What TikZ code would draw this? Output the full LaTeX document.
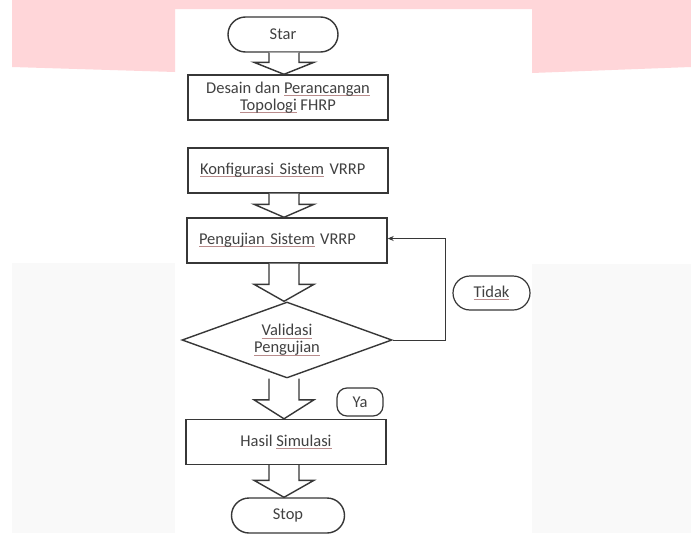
\documentclass[tikz,border=0pt]{standalone}
\usepackage{fontspec}
\setmainfont{Carlito}
\usetikzlibrary{shapes.geometric,shapes.misc,arrows.meta,calc}
\definecolor{pinkbg}{RGB}{255,214,217}
\definecolor{graybg}{RGB}{249,249,249}
\definecolor{ink}{RGB}{55,55,55}
\definecolor{txt}{RGB}{65,65,65}
\definecolor{sqc}{RGB}{185,140,140}
\newcommand\sq[1]{\setbox0\hbox{#1}\rlap{\color{sqc}\raisebox{-2.5pt}{\rule{\wd0}{0.8pt}}}\box0\relax}
\newcommand\blkarrow[3]{%
  \draw[blockarr] let \p1=(#1), \p2=(#2) in
    (269pt,\y1) -- (269pt,\y2+#3) -- (254pt,\y2+#3) -- (284pt,\y2)
    -- (314pt,\y2+#3) -- (299pt,\y2+#3) -- (299pt,\y1);}
\tikzset{
  lbl/.style={font=\fontsize{16.5}{17}\selectfont, text=txt},
  box/.style={lbl, draw=ink, line width=1.4pt, fill=white, minimum width=200pt,
    minimum height=45pt, inner sep=0pt, align=center},
  leftbox/.style={box, text width=176pt, align=left},
  term/.style={lbl, draw=ink, line width=1.4pt, fill=white, rounded rectangle,
    minimum width=110pt, minimum height=35pt, inner sep=0pt},
  decision/.style={lbl, diamond, aspect=2.76, draw=ink, line width=1.4pt, fill=white,
    minimum width=210pt, minimum height=76pt, inner sep=0pt, align=center},
  tag/.style={lbl, draw=ink, line width=1.2pt, fill=white, inner sep=0pt},
  blockarr/.style={draw=ink, line width=1.4pt, fill=white, line join=miter},
  loopline/.style={draw=ink, line width=0.9pt, -{Stealth[length=6pt,width=5pt]}},
}
\begin{document}
\begin{tikzpicture}[x=1pt,y=-1pt]
\useasboundingbox (0,0) rectangle (691,533);
\fill[white] (0,0) rectangle (691,533);
\fill[pinkbg] (12,0) -- (691,0) -- (691,67) -- (532,73) -- (532,9) -- (175,9)
  -- (175,72) -- (12,67) -- cycle;
\fill[graybg] (12,263) rectangle (175,533);
\fill[graybg] (532,264) rectangle (691,533);

\node[term] (start) at (283,34.5) {Star};
\node[box] (desain) at (288,97.5) {Desain dan \sq{Perancangan}\\\sq{Topologi} FHRP};
\node[leftbox] (konf) at (288,170.5) {\sq{Konfigurasi Sistem} VRRP};
\node[leftbox] (uji) at (287,240.5) {\sq{Pengujian Sistem} VRRP};
\node[decision] (valid) at (287,340) {\sq{Validasi}\\\sq{Pengujian}};
\node[tag, rounded corners=10pt, minimum width=46pt, minimum height=28pt] (ya) at (360,402) {Ya};
\node[box] (hasil) at (286,442) {Hasil \sq{Simulasi}};
\node[term, minimum width=113pt] (stop) at (288,515.5) {Stop};
\node[tag, rounded rectangle, minimum width=77pt, minimum height=34pt] (tidak) at (491.5,293) {\sq{Tidak}};

\blkarrow{start.south}{desain.north}{12}
\blkarrow{konf.south}{uji.north}{13}
\blkarrow{uji.south}{valid.north}{17}
\blkarrow{valid.south}{hasil.north}{19}
\blkarrow{hasil.south}{stop.north}{17}

\draw[loopline] (valid.east) -- ++(53,0) |- ([yshift=2pt]uji.east);
\end{tikzpicture}
\end{document}
